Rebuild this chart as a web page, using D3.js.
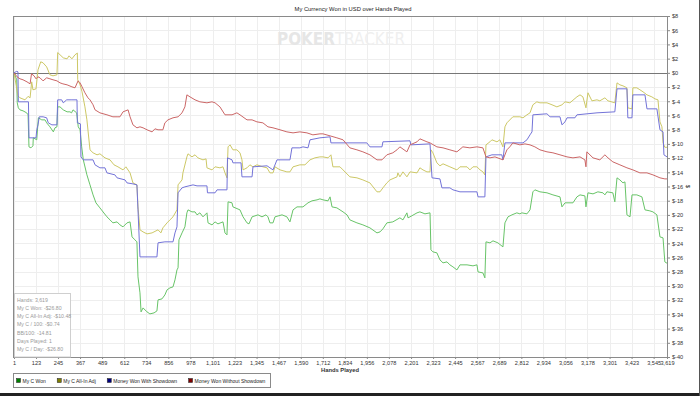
<!DOCTYPE html>
<html>
<head>
<meta charset="utf-8">
<script src="https://cdn.jsdelivr.net/npm/d3@7"></script>
<style>
  body { margin: 0; background: #fff; }
  svg { display: block; font-family: "Liberation Sans", Arial, sans-serif; }
</style>
</head>
<body>
<div id="chart"></div>
<script>
// Valores: [mano, dolares]
const myCWon = [
  [1,0],[16,-0.98],[19,-4.22],[25,-4.93],[34,-5.21],[51,-5.35],[71,-5.63],[79,-5.91],[84,-10.42],[95,-10.56],
  [106,-10.28],[108,-9.15],[127,-9.43],[136,-6.33],[155,-6.62],[173,-6.62],[182,-7.04],[200,-7.6],[219,-8.31],[228,-7.74],
  [239,-7.6],[243,-4.79],[256,-4.79],[274,-5.21],[295,-5.49],[311,-5.49],[320,-5.63],[328,-5.21],[348,-5.63],[357,-7.6],
  [367,-8.02],[376,-10.42],[385,-12.25],[405,-14.36],[422,-15.77],[439,-17.18],[455,-18.3],[477,-19.01],[516,-20.27],[533,-20.7],
  [549,-21.12],[572,-20.98],[588,-21.4],[605,-21.68],[627,-21.12],[644,-20.98],[655,-23.09],[671,-23.51],[682,-23.79],[688,-28.72],
  [699,-30.97],[705,-33.65],[716,-33.09],[738,-33.65],[754,-33.93],[777,-33.79],[793,-33.51],[799,-31.96],[821,-31.82],[837,-31.26],
  [849,-30.55],[865,-30.27],[882,-30.13],[893,-29.14],[904,-27.74],[910,-27.45],[915,-23.51],[932,-22.53],[948,-21.68],[959,-19.71],
  [965,-19.29],[987,-19.57],[1004,-19.57],[1015,-19.99],[1031,-19.71],[1048,-20.27],[1070,-19.71],[1076,-21.12],[1098,-21.4],[1115,-20.98],
  [1131,-21.26],[1159,-20.98],[1170,-22.53],[1181,-22.81],[1187,-18.16],[1209,-18.3],[1214,-18.87],[1253,-19.29],[1270,-20.27],[1292,-21.12],
  [1303,-21.26],[1320,-20.27],[1353,-19.99],[1375,-20.27],[1397,-19.99],[1408,-20.27],[1419,-21.12],[1436,-21.12],[1447,-20.27],[1486,-19.99],
  [1513,-20.27],[1530,-20.98],[1547,-19.29],[1569,-18.87],[1602,-18.87],[1630,-18.3],[1652,-18.02],[1680,-17.88],[1696,-17.74],[1713,-17.88],
  [1741,-18.02],[1752,-17.46],[1763,-18.87],[1790,-19.01],[1824,-19.57],[1846,-19.99],[1862,-20.7],[1901,-21.12],[1934,-21.4],[1973,-21.82],
  [2012,-22.53],[2029,-22.39],[2045,-21.96],[2067,-21.12],[2100,-20.98],[2139,-20.41],[2156,-20.7],[2178,-19.71],[2184,-20.41],[2195,-20.27],
  [2234,-19.71],[2250,-19.57],[2278,-19.85],[2306,-19.71],[2311,-24.92],[2322,-25.2],[2344,-25.34],[2361,-26.33],[2378,-26.75],[2400,-26.61],
  [2416,-27.03],[2433,-27.31],[2455,-27.74],[2472,-27.03],[2511,-27.03],[2544,-27.17],[2566,-27.03],[2572,-28.02],[2599,-28.16],[2610,-28.86],
  [2616,-23.79],[2638,-23.93],[2655,-23.65],[2682,-23.93],[2710,-24.5],[2721,-21.12],[2738,-20.27],[2760,-19.99],[2787,-19.71],[2804,-19.85],
  [2815,-19.71],[2843,-19.85],[2860,-19.29],[2876,-16.75],[2887,-16.47],[2915,-16.75],[2954,-16.89],[2987,-17.18],[3026,-17.46],[3037,-18.87],
  [3054,-18.3],[3098,-18.3],[3120,-17.46],[3137,-17.18],[3164,-17.32],[3170,-18.87],[3181,-16.89],[3209,-17.04],[3236,-16.75],[3264,-16.89],
  [3275,-17.18],[3286,-16.75],[3319,-16.89],[3330,-18.16],[3342,-14.78],[3358,-15.07],[3375,-15.49],[3386,-15.35],[3397,-19.99],[3414,-20.27],
  [3425,-17.18],[3452,-17.18],[3480,-17.46],[3497,-19.29],[3524,-19.43],[3541,-19.57],[3563,-19.99],[3580,-23.09],[3597,-23.23],[3607,-26.61],
  [3619,-26.8]
];

const myCAllInAdj = [
  [1,0],[23,-3.24],[34,-3.52],[62,-3.8],[79,-3.31],[90,-3.52],[99,-1.27],[106,-2.39],[123,-2.25],[134,0.42],
  [149,1.55],[162,1.41],[182,0.84],[200,-0.28],[217,-0.42],[239,-0.28],[243,2.86],[256,2.54],[274,2.11],[295,1.97],
  [306,2.39],[322,1.97],[339,2.54],[352,2.78],[354,-0.98],[367,-1.69],[378,-2.67],[394,-4.79],[405,-6.62],[422,-10.84],
  [439,-11.26],[461,-11.54],[477,-11.4],[505,-11.97],[533,-12.25],[555,-12.95],[577,-13.23],[605,-13.66],[621,-13.23],[644,-14.08],
  [660,-15.49],[682,-15.77],[688,-18.87],[699,-22.1],[716,-22.39],[738,-22.67],[766,-22.53],[799,-22.1],[815,-22.53],[826,-21.82],
  [849,-21.12],[865,-20.7],[882,-20.27],[904,-19.29],[910,-15.77],[932,-15.07],[937,-14.08],[959,-11.83],[965,-11.4],[987,-11.83],
  [1004,-11.54],[1020,-11.97],[1048,-12.25],[1065,-12.11],[1070,-13.37],[1098,-13.66],[1115,-13.23],[1142,-13.37],[1159,-13.23],[1170,-14.08],
  [1181,-14.78],[1187,-10.42],[1198,-10.14],[1214,-10.84],[1236,-10.84],[1253,-11.26],[1264,-12.25],[1270,-13.66],[1292,-13.37],[1308,-12.95],
  [1325,-13.23],[1347,-12.95],[1380,-13.23],[1403,-13.37],[1419,-14.08],[1436,-14.08],[1447,-13.23],[1475,-13.66],[1513,-13.94],[1530,-13.94],
  [1547,-13.23],[1585,-12.95],[1613,-12.95],[1641,-12.25],[1668,-11.97],[1696,-11.83],[1713,-11.83],[1741,-11.97],[1757,-11.54],[1768,-13.23],
  [1807,-13.23],[1824,-13.66],[1862,-14.64],[1901,-14.78],[1934,-15.07],[1973,-15.49],[2012,-16.75],[2029,-16.75],[2045,-16.19],[2067,-15.49],
  [2084,-15.07],[2123,-14.64],[2128,-14.08],[2139,-14.64],[2156,-13.94],[2178,-14.64],[2195,-13.94],[2234,-14.08],[2250,-13.37],[2267,-13.66],
  [2289,-13.94],[2306,-13.94],[2311,-10.84],[2322,-11.26],[2344,-12.67],[2361,-13.09],[2378,-12.81],[2416,-13.23],[2455,-13.66],[2472,-13.23],
  [2511,-13.23],[2527,-13.66],[2544,-13.23],[2566,-13.23],[2583,-13.66],[2599,-13.94],[2610,-14.36],[2616,-10.14],[2638,-9.71],[2649,-9.43],
  [2677,-9.71],[2693,-9.43],[2710,-10.42],[2721,-7.6],[2732,-7.04],[2765,-6.19],[2804,-6.19],[2821,-6.33],[2843,-5.91],[2860,-5.63],
  [2876,-4.5],[2898,-4.08],[2915,-4.22],[2954,-4.22],[2982,-4.5],[3009,-4.79],[3037,-4.5],[3054,-4.08],[3081,-4.22],[3120,-3.38],
  [3137,-3.1],[3153,-3.38],[3170,-4.93],[3181,-2.81],[3203,-3.94],[3231,-3.8],[3247,-3.94],[3275,-3.52],[3292,-3.94],[3330,-4.22],
  [3342,-1.41],[3358,-1.69],[3375,-1.83],[3397,-2.11],[3402,-4.93],[3425,-5.07],[3430,-2.11],[3452,-2.11],[3469,-2.39],[3486,-2.67],
  [3508,-3.1],[3535,-3.38],[3552,-3.66],[3569,-3.8],[3580,-6.9],[3591,-7.6],[3597,-9.86],[3607,-10.48],[3619,-10.48]
];

const wonWithShowdown = [
  [1,0],[16,0.21],[23,0.14],[25,-4.08],[45,-4.08],[81,-4.08],[84,-9.15],[106,-9.15],[123,-9.15],[127,-8.02],
  [134,-7.32],[141,-6.19],[162,-6.19],[182,-6.33],[191,-7.04],[211,-7.32],[239,-7.32],[243,-3.8],[265,-3.8],[274,-4.22],
  [293,-3.8],[322,-3.8],[350,-3.8],[352,-7.04],[369,-7.18],[372,-11.83],[385,-12.25],[439,-12.25],[450,-12.95],[477,-13.37],
  [505,-13.37],[516,-14.08],[560,-14.36],[572,-14.78],[616,-15.07],[627,-15.49],[660,-15.63],[682,-15.77],[688,-19.29],[699,-25.91],
  [793,-25.91],[799,-23.93],[837,-23.79],[882,-23.79],[893,-22.53],[904,-21.68],[910,-16.89],[932,-16.19],[948,-16.05],[993,-15.77],
  [1015,-15.91],[1070,-15.91],[1073,-16.89],[1115,-16.89],[1126,-16.47],[1181,-16.47],[1184,-11.97],[1209,-12.25],[1214,-12.67],[1259,-12.67],
  [1264,-14.64],[1320,-14.64],[1325,-13.23],[1403,-13.09],[1419,-13.37],[1436,-13.66],[1458,-12.25],[1530,-12.25],[1541,-10.56],[1585,-10.56],
  [1602,-10.42],[1630,-10.56],[1641,-9.43],[1696,-9.15],[1752,-9.01],[1757,-9.86],[1956,-9.86],[1973,-10.42],[2040,-10.42],[2045,-9.71],
  [2195,-9.57],[2200,-10.14],[2306,-10],[2317,-14.78],[2361,-14.93],[2372,-16.19],[2416,-16.19],[2433,-16.47],[2472,-16.75],[2566,-16.75],
  [2572,-17.46],[2610,-17.46],[2616,-11.83],[2649,-11.54],[2704,-11.54],[2710,-12.25],[2721,-9.86],[2821,-9.86],[2843,-9.43],[2860,-8.73],
  [2871,-8.31],[2876,-5.91],[2954,-5.77],[2971,-6.19],[3026,-6.19],[3037,-7.32],[3054,-6.9],[3065,-6.33],[3109,-6.33],[3120,-5.91],
  [3231,-5.63],[3330,-5.49],[3342,-2.25],[3397,-2.25],[3402,-6.33],[3425,-6.33],[3430,-3.1],[3497,-3.1],[3508,-5.07],[3563,-5.07],
  [3580,-8.02],[3597,-8.31],[3602,-11.54],[3619,-11.83]
];

const wonWithoutShowdown = [
  [1,0],[18,-0.56],[34,-0.84],[51,-0.98],[73,-1.27],[90,-1.55],[98,-0.14],[112,-0.42],[123,-0.84],[134,-0.56],
  [145,-0.7],[162,-1.13],[182,-0.7],[200,-0.84],[217,-0.98],[239,-1.13],[256,-1.41],[272,-1.55],[295,-1.69],[322,-1.97],
  [339,-2.11],[356,-1.13],[367,-1.41],[378,-1.97],[394,-2.81],[411,-3.52],[422,-3.8],[439,-4.5],[450,-5.21],[477,-5.63],
  [516,-5.91],[549,-6.19],[572,-6.19],[588,-6.19],[605,-5.49],[633,-5.21],[644,-6.19],[660,-7.32],[682,-7.74],[699,-7.6],
  [716,-7.74],[738,-8.02],[766,-8.31],[782,-7.88],[799,-8.02],[826,-8.02],[837,-7.04],[854,-6.62],[882,-6.33],[910,-6.19],
  [932,-5.63],[948,-4.79],[959,-3.1],[976,-3.38],[1004,-3.8],[1031,-4.08],[1070,-4.22],[1098,-4.08],[1115,-4.22],[1142,-4.79],
  [1170,-5.91],[1209,-5.91],[1236,-5.63],[1253,-5.91],[1292,-6.62],[1320,-6.62],[1347,-6.9],[1380,-7.04],[1408,-7.6],[1436,-7.74],
  [1475,-8.02],[1513,-8.31],[1547,-8.45],[1585,-8.31],[1624,-8.45],[1657,-8.73],[1696,-8.59],[1713,-8.59],[1752,-8.87],[1790,-9.15],
  [1824,-9.43],[1862,-10.56],[1901,-10.84],[1934,-11.12],[1973,-11.54],[2012,-12.25],[2040,-12.25],[2067,-11.54],[2100,-11.26],[2123,-10.84],
  [2139,-10.42],[2178,-11.12],[2195,-10.14],[2234,-9.71],[2250,-9.29],[2289,-9.71],[2306,-9.86],[2344,-10.42],[2378,-10.56],[2416,-10.84],
  [2455,-11.12],[2488,-10.42],[2527,-10.56],[2566,-10.42],[2599,-10.56],[2616,-11.83],[2638,-11.97],[2666,-11.83],[2710,-12.25],[2732,-10.84],
  [2748,-10.42],[2765,-9.86],[2804,-10.14],[2832,-10],[2860,-10.14],[2887,-10.42],[2915,-10.84],[2954,-11.12],[2987,-11.26],[3026,-11.54],
  [3065,-11.83],[3098,-11.97],[3137,-11.83],[3164,-12.25],[3170,-13.23],[3175,-11.12],[3209,-11.97],[3247,-12.25],[3275,-11.54],[3292,-11.97],
  [3319,-12.53],[3358,-12.95],[3397,-13.37],[3430,-13.66],[3469,-14.08],[3508,-14.08],[3541,-14.36],[3580,-14.78],[3607,-14.93],[3619,-14.93]
];

const seriesNames = ["My C Won", "My C All-In Adj", "Money Won With Showdown", "Money Won Without Showdown"];
const xTicks = [1,123,245,367,489,612,734,856,978,1101,1223,1345,1467,1590,1712,1834,1956,2078,2201,2323,2445,2567,2689,2812,2934,3056,3178,3301,3423,3545,3619];
const yTicks = d3.range(8, -41, -2);
const infoLines = ["Hands: 3,619", "My C Won: -$26.80", "My C All-In Adj: -$10.48", "My C / 100: -$0.74", "BB/100: -14.81", "Days Played: 1", "My C / Day: -$26.80"];

// colores
const LINE_COLORS = ["#68c468", "#cdc866", "#7373d8", "#cb6666"];
const LEGEND_COLORS = ["#008000", "#808000", "#000080", "#800000"];

const WIDTH = 700;
const HEIGHT = 396;
const MARGIN = { top: 16, right: 33, bottom: 39, left: 14 };

const svg = d3.select("#chart").append("svg")
  .attr("width", WIDTH)
  .attr("height", HEIGHT);

const x = d3.scaleLinear().domain([1, 3619]).range([MARGIN.left, WIDTH - MARGIN.right]);
const y = d3.scaleLinear().domain([-40, 8]).range([HEIGHT - MARGIN.bottom, MARGIN.top]);

// grid
const grid = svg.append("g").attr("shape-rendering", "crispEdges");
grid.selectAll(".gx").data(xTicks).join("line")
  .attr("x1", d => Math.round(x(d)) + 0.5).attr("x2", d => Math.round(x(d)) + 0.5)
  .attr("y1", y(8)).attr("y2", y(-40))
  .attr("stroke", "#eeeeee");
grid.selectAll(".gy").data(yTicks).join("line")
  .attr("x1", x(1)).attr("x2", x(3619))
  .attr("y1", d => Math.round(y(d)) + 0.5).attr("y2", d => Math.round(y(d)) + 0.5)
  .attr("stroke", "#eeeeee");

// marca de agua
const wm = svg.append("text")
  .attr("x", 277).attr("y", 45)
  .attr("font-family", "'DejaVu Sans Condensed', 'DejaVu Sans', sans-serif")
  .attr("font-weight", "bold")
  .attr("font-size", 18)
  .attr("textLength", 128)
  .attr("lengthAdjust", "spacingAndGlyphs");
wm.append("tspan").attr("fill", "#e6e6e6").text("POKER");
wm.append("tspan").attr("fill", "#efefef").attr("font-weight", "normal").text("TRACKER");

// titulo
svg.append("text")
  .attr("x", 353).attr("y", 11)
  .attr("text-anchor", "middle")
  .attr("font-size", 5.8)
  .attr("fill", "#222")
  .text("My Currency Won in USD over Hands Played");

// linea de cero
svg.append("line")
  .attr("x1", x(1)).attr("x2", x(3619))
  .attr("y1", Math.round(y(0)) + 0.5).attr("y2", Math.round(y(0)) + 0.5)
  .attr("stroke", "#777")
  .attr("stroke-width", 1);

// series
const line = d3.line().x(d => x(d[0])).y(d => y(d[1]));
const allSeries = [myCWon, myCAllInAdj, wonWithShowdown, wonWithoutShowdown];
svg.append("g").selectAll("path").data(allSeries).join("path")
  .attr("d", line)
  .attr("fill", "none")
  .attr("stroke", (d, i) => LINE_COLORS[i])
  .attr("stroke-width", 1);

// marco
svg.append("rect")
  .attr("x", x(1) - 0.5).attr("y", y(8) + 0.5)
  .attr("width", x(3619) - x(1) + 1).attr("height", y(-40) - y(8))
  .attr("fill", "none")
  .attr("stroke", "#8a8a8a")
  .attr("shape-rendering", "crispEdges");

// eje derecho
const yAxis = d3.axisRight(y)
  .tickValues(yTicks)
  .tickSize(3)
  .tickPadding(2)
  .tickFormat(d => "$" + d);
svg.append("g")
  .attr("transform", `translate(${x(3619)},0)`)
  .call(yAxis)
  .call(g => g.select(".domain").attr("stroke", "#8a8a8a"))
  .call(g => g.selectAll(".tick line").attr("stroke", "#8a8a8a"))
  .call(g => g.selectAll(".tick text").attr("font-size", 5.6).attr("fill", "#333").attr("font-family", "'Liberation Sans', Arial, sans-serif"));

svg.append("text")
  .attr("transform", `translate(686,${(y(8) + y(-40)) / 2}) rotate(90)`)
  .attr("text-anchor", "middle")
  .attr("font-size", 6)
  .attr("fill", "#333")
  .text("$");

// eje inferior
const xAxis = d3.axisBottom(x)
  .tickValues(xTicks)
  .tickSize(2)
  .tickPadding(2)
  .tickFormat(d3.format(","));
svg.append("g")
  .attr("transform", `translate(0,${y(-40)})`)
  .call(xAxis)
  .call(g => g.select(".domain").remove())
  .call(g => g.selectAll(".tick line").attr("stroke", "#8a8a8a"))
  .call(g => g.selectAll(".tick text").attr("font-size", 5.6).attr("fill", "#333").attr("font-family", "'Liberation Sans', Arial, sans-serif"));

svg.append("text")
  .attr("x", 340).attr("y", 372)
  .attr("text-anchor", "middle")
  .attr("font-size", 5.8)
  .attr("font-weight", "bold")
  .attr("fill", "#333")
  .text("Hands Played");

// caja de info
const info = svg.append("g");
info.append("rect")
  .attr("x", x(1) + 0.5).attr("y", 293.5)
  .attr("width", 56).attr("height", y(-40) - 293.5)
  .attr("fill", "#fff")
  .attr("stroke", "#cfcfcf");
info.selectAll("text").data(infoLines).join("text")
  .attr("x", x(1) + 3)
  .attr("y", (d, i) => 301.5 + i * 8.3)
  .attr("font-size", 5.2)
  .attr("fill", "#9a9a9a")
  .text(d => d);

// leyenda
const legend = svg.append("g").attr("transform", "translate(13,373)");
legend.append("rect")
  .attr("x", 0.5).attr("y", 0.5)
  .attr("width", 257).attr("height", 14)
  .attr("fill", "#fff")
  .attr("stroke", "#8a8a8a");
let lx = 3;
seriesNames.forEach((name, i) => {
  legend.append("rect")
    .attr("x", lx + 0.5).attr("y", 5.5)
    .attr("width", 4).attr("height", 4)
    .attr("fill", LEGEND_COLORS[i])
    .attr("stroke", "#333")
    .attr("stroke-width", 0.6);
  const t = legend.append("text")
    .attr("x", lx + 6.5).attr("y", 9.5)
    .attr("font-size", 5)
    .attr("fill", "#222")
    .text(name);
  lx += 6.5 + t.node().getComputedTextLength() + 11;
});

// borde de la imagen
svg.append("line").attr("x1", 0).attr("x2", WIDTH).attr("y1", 394.5).attr("y2", 394.5)
  .attr("stroke", "#222").attr("stroke-width", 3);
svg.append("line").attr("x1", 699.5).attr("x2", 699.5).attr("y1", 0).attr("y2", HEIGHT)
  .attr("stroke", "#555");
</script>
</body>
</html>
